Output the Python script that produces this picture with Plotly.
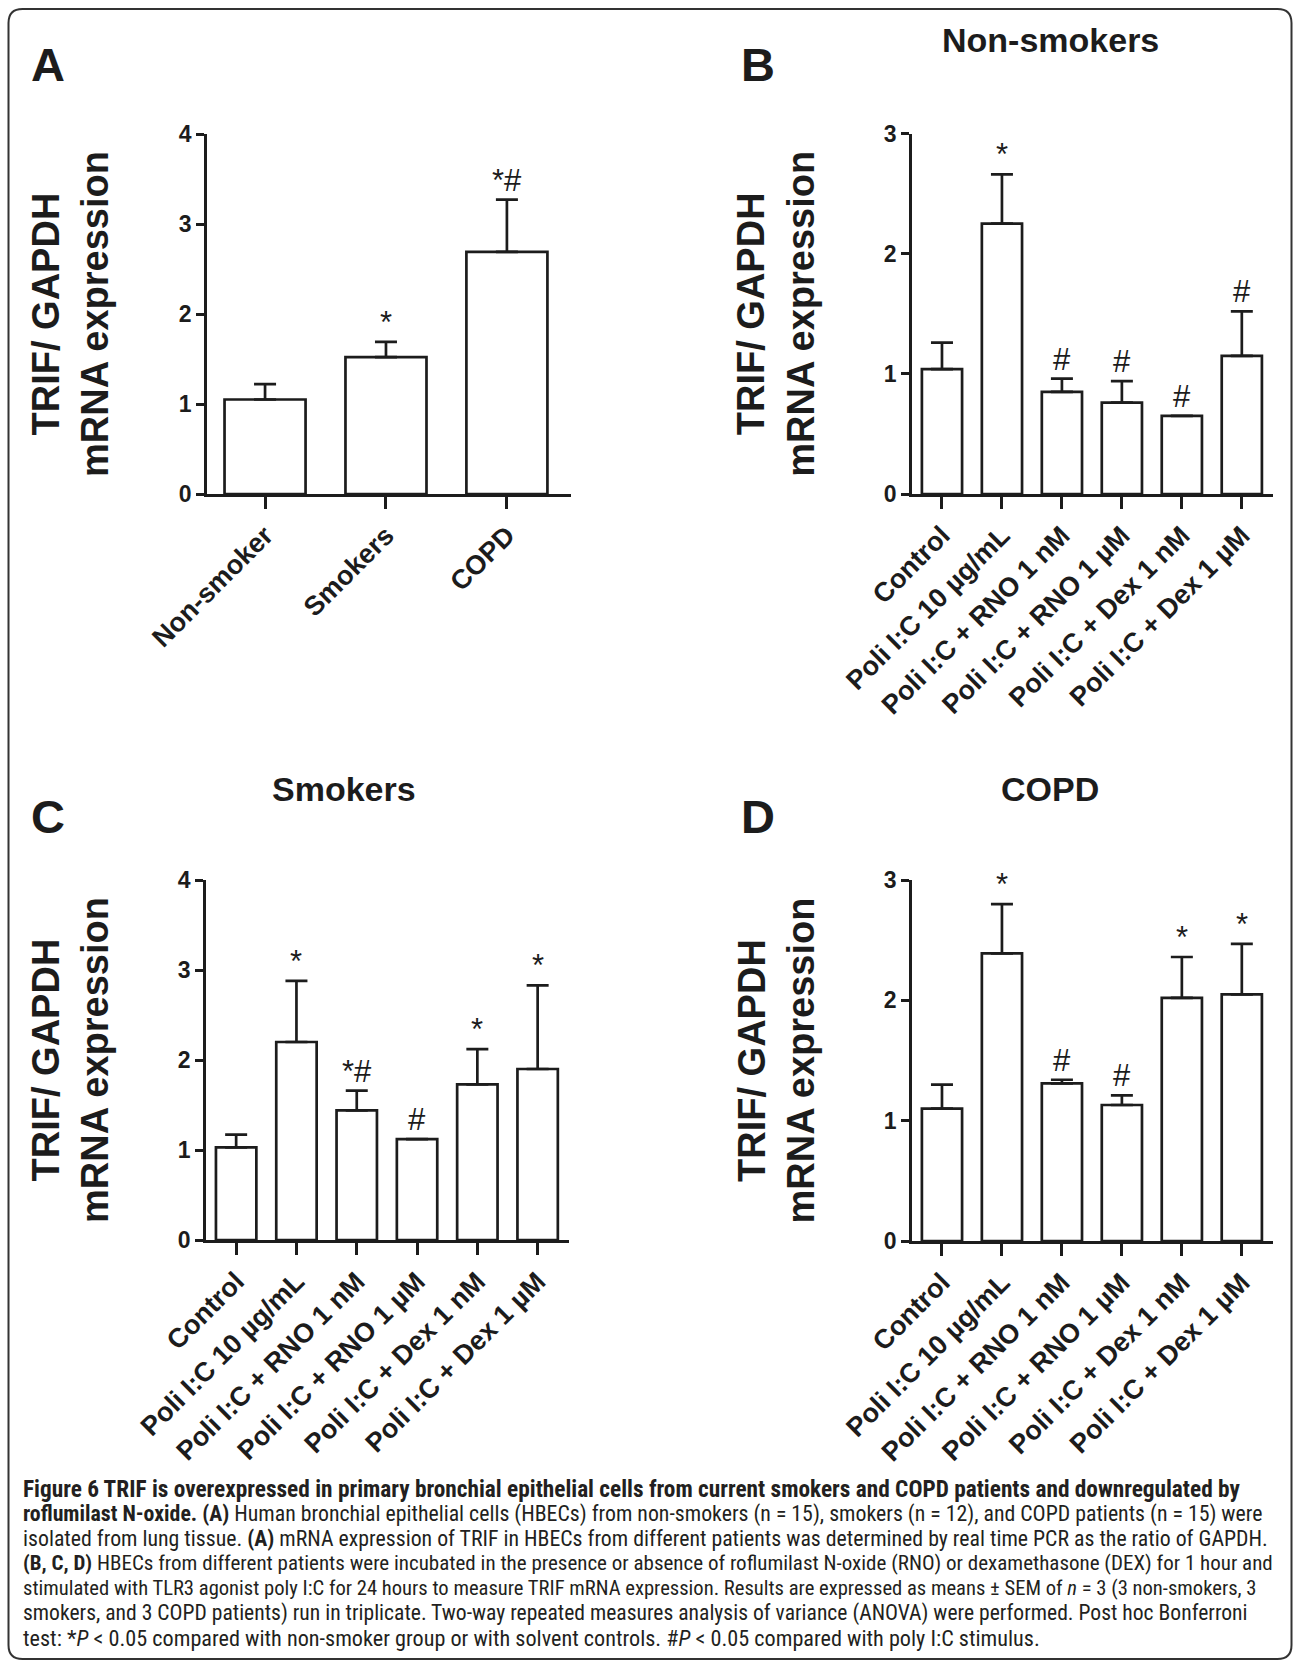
import plotly.graph_objects as go

W, H = 1295, 1663

# ---------------- data ----------------
cats_A = ["Non-smoker", "Smokers", "COPD"]
mean_A = [1.05, 1.52, 2.69]
upper_A = [1.22, 1.69, 3.27]
sig_A = ["", "*", "*#"]

cats_T = ["Control", "Poli I:C 10 µg/mL", "Poli I:C + RNO 1 nM",
          "Poli I:C + RNO 1 µM", "Poli I:C + Dex 1 nM", "Poli I:C + Dex 1 µM"]

mean_B = [1.04, 2.25, 0.85, 0.76, 0.65, 1.15]
upper_B = [1.26, 2.66, 0.96, 0.94, 0.65, 1.52]
sig_B = ["", "*", "#", "#", "#", "#"]

mean_C = [1.03, 2.20, 1.44, 1.12, 1.73, 1.90]
upper_C = [1.17, 2.88, 1.66, 1.12, 2.12, 2.83]
sig_C = ["", "*", "*#", "#", "*", "*"]

mean_D = [1.10, 2.39, 1.31, 1.13, 2.02, 2.05]
upper_D = [1.30, 2.80, 1.34, 1.21, 2.36, 2.47]
sig_D = ["", "*", "#", "#", "*", "*"]

yticks_A = [0, 1, 2, 3, 4]
yticks_B = [0, 1, 2, 3]
yticks_C = [0, 1, 2, 3, 4]
yticks_D = [0, 1, 2, 3]

titles = {"B": "Non-smokers", "C": "Smokers", "D": "COPD"}
ytitle = "TRIF/ GAPDH<br>mRNA expression"

caption_lines = [
    "<b>Figure 6 TRIF is overexpressed in primary bronchial epithelial cells from current smokers and COPD patients and downregulated by</b>",
    "<b>roflumilast N-oxide. (A)</b> Human bronchial epithelial cells (HBECs) from non-smokers (n = 15), smokers (n = 12), and COPD patients (n = 15) were",
    "isolated from lung tissue. <b>(A)</b> mRNA expression of TRIF in HBECs from different patients was determined by real time PCR as the ratio of GAPDH.",
    "<b>(B, C, D)</b> HBECs from different patients were incubated in the presence or absence of roflumilast N-oxide (RNO) or dexamethasone (DEX) for 1 hour and",
    "stimulated with TLR3 agonist poly I:C for 24 hours to measure TRIF mRNA expression. Results are expressed as means ± SEM of <i>n</i> = 3 (3 non-smokers, 3",
    "smokers, and 3 COPD patients) run in triplicate. Two-way repeated measures analysis of variance (ANOVA) were performed. Post hoc Bonferroni",
    "test: *<i>P</i> &lt; 0.05 compared with non-smoker group or with solvent controls. #<i>P</i> &lt; 0.05 compared with poly I:C stimulus.",
]
# per-line font sizes so each (justified in the original) line spans about the same width
caption_sizes = [23.3, 21.8, 21.8, 21.0, 20.6, 21.6, 22.2]

# ---------------- layout helpers ----------------
FONT = "Liberation Sans"
CAPFONT = "Roboto Condensed"
INK = "#1c1c1c"

def px(x):
    return x / W

def py(y):
    return 1 - y / H

panels = [
    ("A", cats_A, mean_A, upper_A, sig_A, yticks_A, (207, 571), (134, 494), [-0.48, 2.53]),
    ("B", cats_T, mean_B, upper_B, sig_B, yticks_B, (912, 1273), (133.5, 494), [-0.5, 5.52]),
    ("C", cats_T, mean_C, upper_C, sig_C, yticks_C, (206, 569), (880, 1240), [-0.5, 5.52]),
    ("D", cats_T, mean_D, upper_D, sig_D, yticks_D, (912, 1273), (880, 1241), [-0.5, 5.52]),
]

fig = go.Figure()
annotations = []

for i, (name, cats, mean, upper, sig, yt, xp, yp, xr) in enumerate(panels):
    ax = "" if i == 0 else str(i + 1)
    xa, ya = "x" + ax, "y" + ax
    err = [u - m for u, m in zip(upper, mean)]
    fig.add_trace(go.Bar(
        x=cats, y=mean, xaxis=xa, yaxis=ya, width=0.67,
        marker=dict(color="white", line=dict(color=INK, width=2.7)),
        error_y=dict(type="data", symmetric=False, array=err,
                     arrayminus=[0] * len(err), color=INK, thickness=2.7, width=11),
        showlegend=False, hoverinfo="skip",
    ))
    common = dict(showgrid=False, zeroline=False, showline=True, linecolor=INK,
                  linewidth=2.7, ticks="outside", tickcolor=INK, tickwidth=2.7,
                  automargin=False)
    fig.update_layout(**{
        ("xaxis" + ax): dict(domain=[px(xp[0]), px(xp[1])], anchor=ya, range=xr,
                             type="category", tickangle=-45, ticklen=12,
                             tickfont=dict(family=FONT, size=27, color=INK, weight="bold"),
                             **common),
        ("yaxis" + ax): dict(domain=[py(yp[1]), py(yp[0])], anchor=xa,
                             range=[0, yt[-1]], tickvals=yt, ticklen=8,
                             tickfont=dict(family=FONT, size=23, color=INK, weight="bold"),
                             **common),
    })
    for c, u, s in zip(cats, upper, sig):
        if s:
            annotations.append(dict(x=c, y=u, xref=xa, yref=ya, text=s, showarrow=False,
                                    yanchor="bottom", yshift=0,
                                    font=dict(family=FONT, size=31, color=INK)))
    annotations.append(dict(x=px(xp[0] - 136), y=py((yp[0] + yp[1]) / 2), xref="paper", yref="paper",
                            text=ytitle, textangle=-90, showarrow=False,
                            xanchor="center", yanchor="middle",
                            font=dict(family=FONT, size=38, color=INK, weight="bold")))
    ly = 64 if yp[0] < 500 else 816
    lx = 48 if xp[0] < 600 else 758
    annotations.append(dict(x=px(lx), y=py(ly), xref="paper", yref="paper", text=name,
                            showarrow=False, xanchor="center", yanchor="middle",
                            font=dict(family=FONT, size=47, color=INK, weight="bold")))
    if name in titles:
        ty = 40 if yp[0] < 500 else 789
        annotations.append(dict(x=px(xp[0] + 138), y=py(ty), xref="paper", yref="paper",
                                text=titles[name], showarrow=False,
                                xanchor="center", yanchor="middle",
                                font=dict(family=FONT, size=34, color=INK, weight="bold")))

# caption, one annotation per line
for k, (line, fs) in enumerate(zip(caption_lines, caption_sizes)):
    annotations.append(dict(x=px(21), y=py(1489 + 24.8 * k), xref="paper", yref="paper",
                            text=line, showarrow=False, xanchor="left", yanchor="middle",
                            align="left",
                            font=dict(family=CAPFONT, size=fs, color="#231f20")))

# rounded border around the figure
x0, y0, x1, y1, r = px(8.5), py(9), px(1291.5), py(1659), 14
rx, ry = r / W, r / H
path = (f"M {x0 + rx},{y0} L {x1 - rx},{y0} Q {x1},{y0} {x1},{y0 - ry} "
        f"L {x1},{y1 + ry} Q {x1},{y1} {x1 - rx},{y1} L {x0 + rx},{y1} "
        f"Q {x0},{y1} {x0},{y1 + ry} L {x0},{y0 - ry} Q {x0},{y0} {x0 + rx},{y0} Z")
fig.add_shape(type="path", path=path, xref="paper", yref="paper",
              line=dict(color="#333333", width=2))

fig.update_layout(width=W, height=H, autosize=False,
                  margin=dict(l=0, r=0, t=0, b=0, pad=0),
                  paper_bgcolor="white", plot_bgcolor="white",
                  annotations=annotations)

fig.write_html("out.html")
